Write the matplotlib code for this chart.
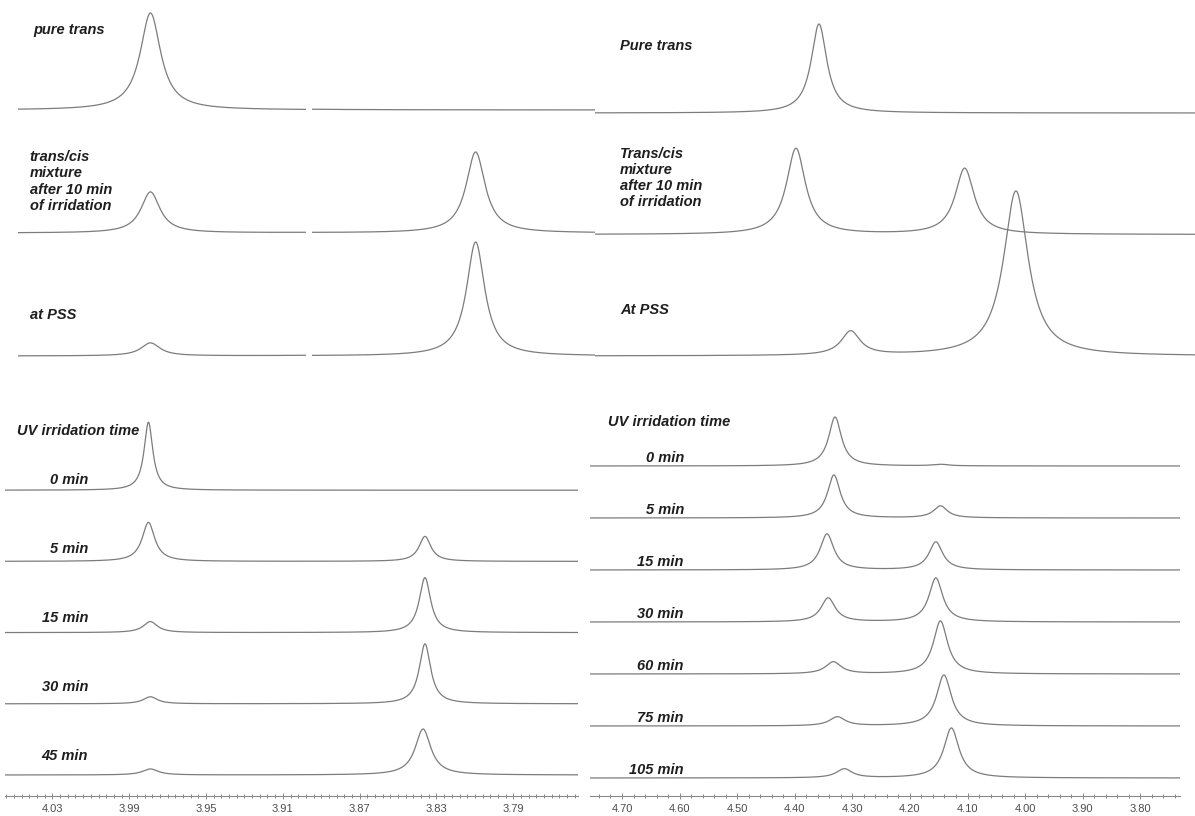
import numpy as np
import matplotlib.pyplot as plt
from matplotlib.ticker import AutoMinorLocator

W, H = 1195, 816

# ---- top left: trans isomer, mixture after 10 min, photostationary state ----
tl_labels = ["pure trans", "trans/cis\nmixture\nafter 10 min\nof irridation", "at PSS"]
tl_trans_ppm = [3.981, 3.981, 3.981]
tl_trans_h = [97, 41, 13]
tl_trans_w = [0.013, 0.012, 0.012]
tl_cis_ppm = [3.825, 3.825, 3.825]
tl_cis_h = [0, 81, 114]
tl_cis_w = [0.012, 0.012, 0.0115]

# ---- top right: second compound, same three samples ----
tr_labels = ["Pure trans", "Trans/cis\nmixture\nafter 10 min\nof irridation", "At PSS"]
tr_trans_ppm = [4.358, 4.398, 4.303]
tr_trans_h = [89, 86, 24]
tr_trans_w = [0.033, 0.040, 0.040]
tr_cis_ppm = [4.105, 4.105, 4.016]
tr_cis_h = [0, 66, 165]
tr_cis_w = [0.040, 0.040, 0.052]

# ---- bottom left: UV irradiation series ----
bl_times = ["0 min", "5 min", "15 min", "30 min", "45 min"]
bl_trans_ppm = [3.980, 3.980, 3.979, 3.979, 3.979]
bl_trans_h = [68, 39, 11, 7, 6]
bl_trans_w = [0.0055, 0.008, 0.009, 0.009, 0.010]
bl_cis_ppm = [3.836, 3.836, 3.836, 3.836, 3.837]
bl_cis_h = [0, 25, 55, 60, 46]
bl_cis_w = [0.0075, 0.0075, 0.0072, 0.0072, 0.0099]
bl_ticks = [4.03, 3.99, 3.95, 3.91, 3.87, 3.83, 3.79]

# ---- bottom right: UV irradiation series ----
br_times = ["0 min", "5 min", "15 min", "30 min", "60 min", "75 min", "105 min"]
br_trans_ppm = [4.330, 4.332, 4.344, 4.342, 4.333, 4.326, 4.314]
br_trans_h = [49, 43, 36, 24, 12, 9, 9]
br_trans_w = [0.027, 0.027, 0.029, 0.030, 0.033, 0.033, 0.033]
br_cis_ppm = [4.147, 4.147, 4.155, 4.155, 4.147, 4.141, 4.128]
br_cis_h = [1.5, 12, 28, 44, 53, 51, 50]
br_cis_w = [0.032, 0.029, 0.029, 0.029, 0.030, 0.031, 0.032]
br_ticks = [4.70, 4.60, 4.50, 4.40, 4.30, 4.20, 4.10, 4.00, 3.90, 3.80]

LINE = dict(color="#7c7c7c", lw=0.9)
LABEL = dict(family="Liberation Sans", weight="bold", style="italic",
             size=10.5, color="#1e1e1e")


def lorentz(x, x0, h, w):
    return h / (1.0 + ((x - x0) / (w / 2.0)) ** 2)


def trace(x, i, ppm_a, h_a, w_a, ppm_b, h_b, w_b):
    return lorentz(x, ppm_a[i], h_a[i], w_a[i]) + lorentz(x, ppm_b[i], h_b[i], w_b[i])


fig = plt.figure(figsize=(W / 100, H / 100), dpi=100)


def px_axes(x0, x1, y0, y1):
    ax = fig.add_axes([x0 / W, 1 - y1 / H, (x1 - x0) / W, (y1 - y0) / H])
    ax.set_facecolor("none")
    ax.set_ylim(0, y1 - y0)
    return ax


def stack(ax, xlim, n, first, step, peaks):
    ax.set_xlim(*xlim)
    x = np.linspace(xlim[0], xlim[1], 2500)
    offs = []
    for i in range(n):
        off = first + step * (n - 1 - i)
        ax.plot(x, off + trace(x, i, *peaks), **LINE)
        offs.append(off)
    return offs


def axis_bottom(ax, ticks, nminor):
    for s in ("left", "right", "top"):
        ax.spines[s].set_visible(False)
    ax.spines["bottom"].set_color("#8a8a8a")
    ax.spines["bottom"].set_linewidth(0.8)
    ax.set_yticks([])
    ax.set_xticks(ticks)
    ax.set_xticklabels([f"{t:.2f}" for t in ticks], family="Liberation Sans")
    ax.xaxis.set_minor_locator(AutoMinorLocator(nminor))
    ax.tick_params(axis="x", which="both", direction="inout", color="#8a8a8a",
                   labelcolor="#4d4d4d", labelsize=8, width=0.7)
    ax.tick_params(axis="x", which="major", length=5, pad=3)
    ax.tick_params(axis="x", which="minor", length=3.5)


# top left, drawn as two spectral windows
tl_peaks = (tl_trans_ppm, tl_trans_h, tl_trans_w, tl_cis_ppm, tl_cis_h, tl_cis_w)
ax_a = px_axes(18, 306, 0, 380)
ax_b = px_axes(312, 595, 0, 380)
stack(ax_a, (4.05, 3.90), 3, 24, 123, tl_peaks)
stack(ax_b, (3.91, 3.763), 3, 24, 123, tl_peaks)
ax_a.axis("off")
ax_b.axis("off")
for lab, x, y in zip(tl_labels, [0.052, 0.04, 0.04], [350, 198.5, 65]):
    ax_a.text(x, y, lab, transform=ax_a.get_yaxis_transform(), ha="left",
              va="center", linespacing=1.2, **LABEL)

# top right
tr_peaks = (tr_trans_ppm, tr_trans_h, tr_trans_w, tr_cis_ppm, tr_cis_h, tr_cis_w)
ax_c = px_axes(595, 1195, 0, 380)
stack(ax_c, (4.747, 3.705), 3, 24, 121.5, tr_peaks)
ax_c.axis("off")
for lab, y in zip(tr_labels, [334, 202, 70]):
    ax_c.text(0.042, y, lab, transform=ax_c.get_yaxis_transform(),
              ha="left", va="center", linespacing=1.2, **LABEL)

# bottom left
bl_peaks = (bl_trans_ppm, bl_trans_h, bl_trans_w, bl_cis_ppm, bl_cis_h, bl_cis_w)
ax_d = px_axes(5, 578, 405, 796)
offs = stack(ax_d, (4.0547, 3.7563), len(bl_times), 21, 71.2, bl_peaks)
axis_bottom(ax_d, bl_ticks, 10)
ax_d.text(0.021, 365, "UV irridation time", transform=ax_d.get_yaxis_transform(),
          ha="left", va="center", **LABEL)
for i, (lab, off) in enumerate(zip(bl_times, offs)):
    ax_d.text(0.145, off + 10 + 2.2 * i, lab, transform=ax_d.get_yaxis_transform(),
              ha="right", va="center", **LABEL)

# bottom right
br_peaks = (br_trans_ppm, br_trans_h, br_trans_w, br_cis_ppm, br_cis_h, br_cis_w)
ax_e = px_axes(590, 1180, 405, 796)
offs = stack(ax_e, (4.7556, 3.731), len(br_times), 18, 52, br_peaks)
axis_bottom(ax_e, br_ticks, 5)
ax_e.text(0.03, 374, "UV irridation time", transform=ax_e.get_yaxis_transform(),
          ha="left", va="center", **LABEL)
for lab, off in zip(br_times, offs):
    ax_e.text(0.159, off + 8, lab, transform=ax_e.get_yaxis_transform(),
              ha="right", va="center", **LABEL)

fig.savefig("out.png", dpi=100, facecolor="white")
